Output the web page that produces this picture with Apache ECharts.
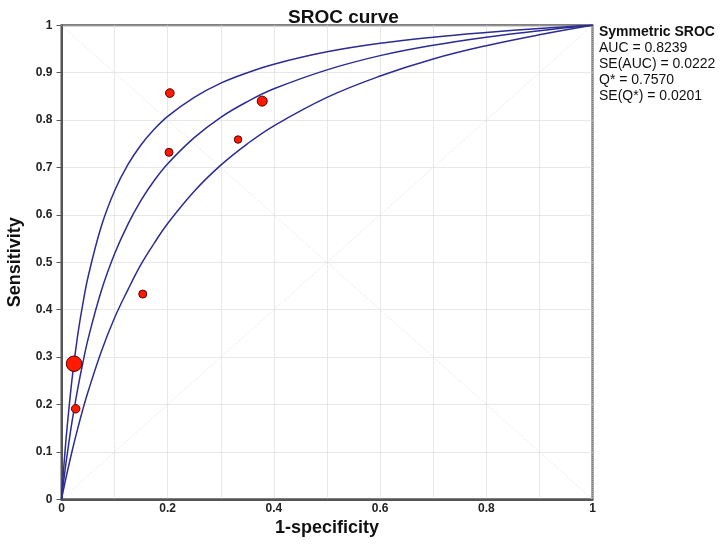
<!DOCTYPE html>
<html>
<head>
<meta charset="utf-8">
<script src="https://cdn.jsdelivr.net/npm/echarts@6/dist/echarts.min.js"></script>
<style>
html,body{margin:0;padding:0;background:#fff;}
#chart{width:720px;height:545px;}
</style>
</head>
<body>
<div id="chart"></div>
<script>
// ---- data ----
const studyFpr  = [0.0236, 0.0267, 0.153, 0.2025, 0.204, 0.3325, 0.378];
const studySens = [0.286, 0.191, 0.433, 0.732, 0.857, 0.759, 0.840];
const studyWeight = [15.5, 8.5, 8, 8, 8.7, 7.5, 10];

const curveX      = [0, 0.0025, 0.005, 0.01, 0.02, 0.03, 0.04, 0.05, 0.075, 0.1, 0.125, 0.15, 0.175, 0.2, 0.25, 0.3, 0.35, 0.4, 0.5, 0.6, 0.7, 0.8, 0.9, 1];
const curveUpper  = [0, 0.040, 0.078, 0.145, 0.255, 0.342, 0.411, 0.469, 0.576, 0.651, 0.706, 0.748, 0.781, 0.808, 0.848, 0.878, 0.900, 0.918, 0.944, 0.962, 0.975, 0.985, 0.9934, 1];
const curveMiddle = [0, 0.024, 0.046, 0.089, 0.165, 0.230, 0.287, 0.338, 0.440, 0.518, 0.580, 0.631, 0.673, 0.708, 0.763, 0.806, 0.839, 0.866, 0.906, 0.936, 0.958, 0.975, 0.9887, 1];
const curveLower  = [0, 0.014, 0.027, 0.053, 0.102, 0.147, 0.189, 0.227, 0.312, 0.383, 0.442, 0.496, 0.541, 0.582, 0.650, 0.705, 0.750, 0.788, 0.848, 0.893, 0.929, 0.957, 0.980, 1];

const diagUp   = [[0, 0], [1, 1]];
const diagDown = [[0, 1], [1, 0]];

const xTickLabels = ['0', '0.2', '0.4', '0.6', '0.8', '1'];
const yTickLabels = ['0', '0.1', '0.2', '0.3', '0.4', '0.5', '0.6', '0.7', '0.8', '0.9', '1'];

const statsTitle = 'Symmetric SROC';
const statsLines = ['AUC = 0.8239', 'SE(AUC) = 0.0222', 'Q* = 0.7570', 'SE(Q*) = 0.0201'];

// ---- chart ----
const FONT = 'Arial, "Liberation Sans", sans-serif';
const zip = (xs, ys) => xs.map((x, i) => [x, ys[i]]);
const curveStyle = { color: '#2c2c92', width: 1.5 };

const chart = echarts.init(document.getElementById('chart'), null, { renderer: 'canvas' });
chart.setOption({
  backgroundColor: '#fff',
  animation: false,
  title: {
    text: 'SROC curve',
    left: 283, top: 3,
    textStyle: { fontFamily: FONT, fontSize: 19, fontWeight: 'bold', color: '#111' }
  },
  grid: {
    left: 61.5, top: 25.3, width: 531, height: 474,
    outerBoundsMode: 'none', containLabel: false,
    show: true, borderColor: '#555', borderWidth: 2, backgroundColor: 'transparent'
  },
  xAxis: {
    type: 'value', min: 0, max: 1, interval: 0.1,
    name: '1-specificity', nameLocation: 'middle', nameGap: 20,
    nameTextStyle: { fontFamily: FONT, fontSize: 18, fontWeight: 'bold', color: '#111' },
    axisLine: { show: true, lineStyle: { color: '#555', width: 2 } },
    axisTick: { show: false },
    axisLabel: {
      margin: 3, fontFamily: FONT, fontSize: 12, fontWeight: 'bold', color: '#222',
      formatter: v => { const i = Math.round(v * 10); return i % 2 === 0 ? xTickLabels[i / 2] : ''; }
    },
    splitLine: { show: true, lineStyle: { color: '#d0d0d0', type: 'dotted', width: 1 } }
  },
  yAxis: {
    type: 'value', min: 0, max: 1, interval: 0.1,
    name: 'Sensitivity', nameLocation: 'middle', nameGap: 37, nameRotate: 90,
    nameTextStyle: { fontFamily: FONT, fontSize: 18, fontWeight: 'bold', color: '#111' },
    axisLine: { show: true, lineStyle: { color: '#555', width: 2 } },
    axisTick: { show: true, length: 5, lineStyle: { color: '#555', width: 1 } },
    axisLabel: {
      margin: 9, fontFamily: FONT, fontSize: 12, fontWeight: 'bold', color: '#222',
      formatter: v => yTickLabels[Math.round(v * 10)]
    },
    splitLine: { show: true, lineStyle: { color: '#d0d0d0', type: 'dotted', width: 1 } }
  },
  graphic: [{
    type: 'text', left: 599, top: 24,
    style: {
      text: '{b|' + statsTitle + '}\n' + statsLines.join('\n'),
      fontFamily: FONT, fontSize: 14, lineHeight: 16, fill: '#111',
      rich: { b: { fontFamily: FONT, fontSize: 14, fontWeight: 'bold', lineHeight: 16, fill: '#111' } }
    }
  }],
  series: [
    { type: 'line', data: diagUp, symbol: 'none', silent: true,
      lineStyle: { color: '#e6e6e6', width: 1, type: 'dotted' }, z: 1 },
    { type: 'line', data: diagDown, symbol: 'none', silent: true,
      lineStyle: { color: '#e6e6e6', width: 1, type: 'dotted' }, z: 1 },
    { type: 'line', data: zip(curveX, curveUpper), symbol: 'none', smooth: 0.4, lineStyle: curveStyle, z: 3 },
    { type: 'line', data: zip(curveX, curveMiddle), symbol: 'none', smooth: 0.4, lineStyle: curveStyle, z: 3 },
    { type: 'line', data: zip(curveX, curveLower), symbol: 'none', smooth: 0.4, lineStyle: curveStyle, z: 3 },
    { type: 'scatter', data: zip(studyFpr, studySens),
      symbolSize: (val, p) => studyWeight[p.dataIndex],
      itemStyle: { color: '#ff1a00', borderColor: '#5a0000', borderWidth: 1, opacity: 1 }, z: 5 }
  ]
});
</script>
</body>
</html>
